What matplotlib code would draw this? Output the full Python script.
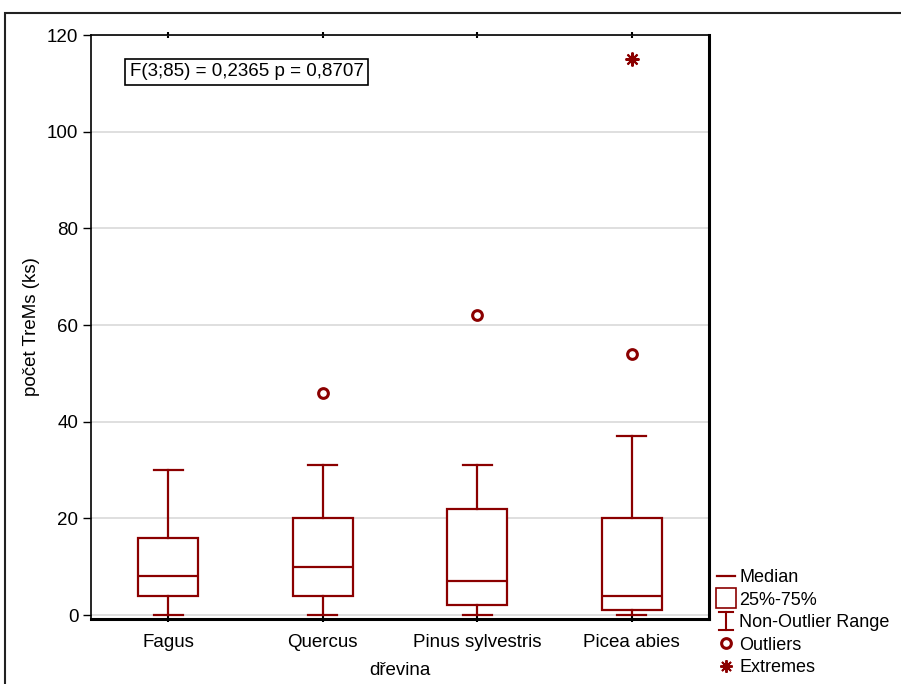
import matplotlib
matplotlib.use("Agg")
import matplotlib.pyplot as plt
from matplotlib.lines import Line2D
from matplotlib.patches import Rectangle
from matplotlib.legend_handler import HandlerBase

plt.rcParams['font.family'] = ['Liberation Sans', 'DejaVu Sans']

# data
species = ["Fagus", "Quercus", "Pinus sylvestris", "Picea abies"]
whisk_lo = [0, 0, 0, 0]
q1 = [4, 4, 2, 1]
medians = [8, 10, 7, 4]
q3 = [16, 20, 22, 20]
whisk_hi = [30, 31, 31, 37]
outliers = [[], [46], [62], [54]]
extremes = [[], [], [], [115]]
yticks = [0, 20, 40, 60, 80, 100, 120]
stat_text = "F(3;85) = 0,2365 p = 0,8707"

red = '#8b0000'
fs = 13.5

fig = plt.figure(figsize=(9.01, 6.84), dpi=100)
ax = fig.add_axes([91/901, 65/684, 618/901, 584/684])

stats = []
for i in range(len(species)):
    stats.append(dict(label=species[i], whislo=whisk_lo[i], q1=q1[i], med=medians[i],
                      q3=q3[i], whishi=whisk_hi[i], fliers=[]))
pos = list(range(len(species)))
ax.bxp(stats, positions=pos, widths=0.39, showfliers=False, patch_artist=True,
       boxprops=dict(facecolor='white', edgecolor=red, linewidth=1.6),
       medianprops=dict(color=red, linewidth=1.6),
       whiskerprops=dict(color=red, linewidth=1.6),
       capprops=dict(color=red, linewidth=1.6), capwidths=0.19, zorder=3)

for i in pos:
    if outliers[i]:
        ax.plot([i]*len(outliers[i]), outliers[i], 'o', ms=7, mfc='white', mec=red, mew=2.2, zorder=4)
    if extremes[i]:
        ax.plot([i]*len(extremes[i]), extremes[i], marker=(8, 2, 0), ls='none', ms=10, mec=red, mew=1.5, zorder=4)

ax.set_xlim(-0.5, 3.5)
ax.set_ylim(-0.8, 120)
ax.set_yticks(yticks)
ax.set_xticks(pos)
ax.set_xticklabels(species, fontsize=fs)
ax.tick_params(axis='y', labelsize=fs, length=6, width=1, direction='out', pad=3)
ax.tick_params(axis='x', length=4, width=1.5, direction='inout', top=True, pad=9)
ax.yaxis.grid(True, color='#d9d9d9', linewidth=1.2)
ax.set_axisbelow(True)
for s in ['top', 'left']:
    ax.spines[s].set_linewidth(1.2)
for s in ['right', 'bottom']:
    ax.spines[s].set_linewidth(2.2)

ax.set_ylabel("počet TreMs (ks)", fontsize=fs, labelpad=5)
ax.set_xlabel("dřevina", fontsize=fs, labelpad=8)

ax.text(0.063, 0.937, stat_text, transform=ax.transAxes, fontsize=fs, va='center', ha='left',
        bbox=dict(boxstyle='square,pad=0.25', fc='white', ec='black', lw=1.2))


class IBeamHandler(HandlerBase):
    def create_artists(self, legend, orig_handle, xd, yd, width, height, fontsize, trans):
        cx = width / 2 - xd
        lo, hi = -yd - 2, height - yd + 2
        return [Line2D([cx, cx], [lo, hi], color=red, lw=1.5, transform=trans),
                Line2D([cx - 5, cx + 5], [lo, lo], color=red, lw=1.5, transform=trans),
                Line2D([cx - 5, cx + 5], [hi, hi], color=red, lw=1.5, transform=trans)]


h_med = Line2D([], [], color=red, lw=1.6)
h_box = Line2D([], [], ls='none', marker='s', ms=14, mfc='white', mec=red, mew=1.2)
h_rng = object()
h_out = Line2D([], [], ls='none', marker='o', ms=7, mfc='white', mec=red, mew=2.2)
h_ext = Line2D([], [], ls='none', marker=(8, 2, 0), ms=9, mec=red, mew=1.4)
leg = ax.legend([h_med, h_box, h_rng, h_out, h_ext],
                ["Median", "25%-75%", "Non-Outlier Range", "Outliers", "Extremes"],
                handler_map={h_rng: IBeamHandler()},
                loc='lower left', bbox_to_anchor=(1.001, -0.11), frameon=False,
                fontsize=13, handlelength=1.0, handletextpad=0.25, labelspacing=0.3,
                borderaxespad=0)

# outer frame
fig.add_artist(Rectangle((5/901, -0.2), 1.5, 0.2 + 1 - 13/684, transform=fig.transFigure,
                         fill=False, ec='#222222', lw=1.5, clip_on=False))

fig.savefig("out.png", dpi=100)
